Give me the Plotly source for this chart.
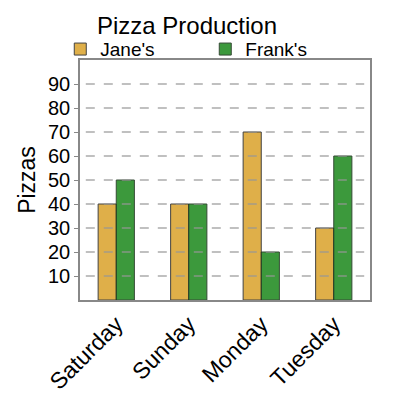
import plotly.graph_objects as go

days = ["Saturday", "Sunday", "Monday", "Tuesday"]
janes = [40, 40, 70, 30]
franks = [50, 40, 20, 60]
y_ticks = [10, 20, 30, 40, 50, 60, 70, 80, 90]

font_family = "Liberation Sans, Arial, sans-serif"

fig = go.Figure()
fig.add_trace(go.Bar(name="Jane's", x=days, y=janes,
                     marker=dict(color="#DDA93A", line=dict(color="#333333", width=1)),
                     opacity=0.92))
fig.add_trace(go.Bar(name="Frank's", x=days, y=franks,
                     marker=dict(color="#228B22", line=dict(color="#1a331a", width=1)),
                     opacity=0.88))

for v in y_ticks:
    fig.add_shape(type="line", xref="paper", yref="y", x0=0.02, x1=0.98, y0=v, y1=v,
                  line=dict(color="rgba(150,150,150,0.6)", width=2, dash="dash"),
                  layer="above")

fig.update_layout(
    width=400, height=400,
    margin=dict(l=72, r=38, t=52, b=108, autoexpand=False),
    paper_bgcolor="white", plot_bgcolor="white",
    font=dict(family=font_family, color="black"),
    barmode="group", bargap=0.5, bargroupgap=0,
    title=dict(text="Pizza Production", x=0.4475, xanchor="center", xref="container",
               y=0.955, yanchor="middle", font=dict(size=24)),
    legend=dict(orientation="h", x=-0.068, xanchor="left", y=1.045, yanchor="middle",
                font=dict(size=19), entrywidth=100, entrywidthmode="pixels",
                itemwidth=30,
                traceorder="normal", bgcolor="rgba(0,0,0,0)"),
    xaxis=dict(showline=True, linecolor="#888888", linewidth=1.5, mirror=True,
               tickangle=-45, tickfont=dict(size=23), ticks="", showgrid=False),
    yaxis=dict(range=[0, 100], tickvals=y_ticks, showgrid=False,
               showline=True, linecolor="#888888", linewidth=1.5, mirror=True,
               ticks="outside", ticklen=4, tickcolor="#888888",
               tickfont=dict(size=20),
               title=dict(text="Pizzas", font=dict(size=23), standoff=6)),
)

fig.write_html("out.html")
